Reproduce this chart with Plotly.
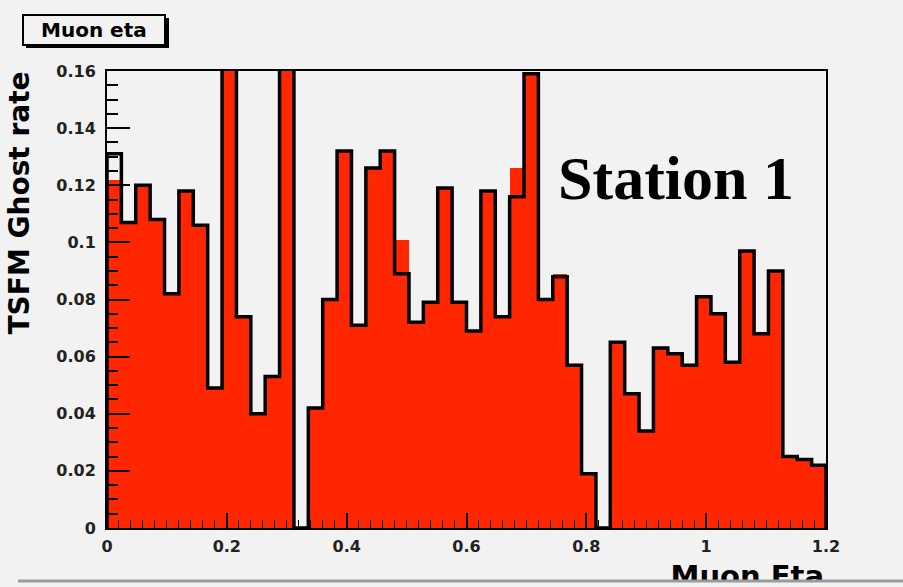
import plotly.graph_objects as go

# ---------------- data ----------------
eta_min, eta_max, n_bins = 0.0, 1.2, 50
# red filled histogram (per 0.024 bin in eta)
red_vals = [0.122, 0.107, 0.120, 0.108, 0.082, 0.118, 0.106, 0.049, 0.175, 0.074,
            0.040, 0.053, 0.175, 0.000, 0.042, 0.080, 0.132, 0.071, 0.126, 0.132,
            0.101, 0.072, 0.079, 0.119, 0.079, 0.069, 0.118, 0.074, 0.126, 0.159,
            0.080, 0.089, 0.057, 0.019, 0.000, 0.065, 0.047, 0.034, 0.063, 0.061,
            0.057, 0.081, 0.075, 0.058, 0.097, 0.068, 0.090, 0.025, 0.024, 0.022]
# black outline histogram
black_vals = [0.131, 0.107, 0.120, 0.108, 0.082, 0.118, 0.106, 0.049, 0.175, 0.074,
              0.040, 0.053, 0.175, 0.000, 0.042, 0.080, 0.132, 0.071, 0.126, 0.132,
              0.089, 0.072, 0.079, 0.119, 0.079, 0.069, 0.118, 0.074, 0.116, 0.159,
              0.080, 0.088, 0.057, 0.019, 0.000, 0.065, 0.047, 0.034, 0.063, 0.061,
              0.057, 0.081, 0.075, 0.058, 0.097, 0.068, 0.090, 0.025, 0.024, 0.022]
x_tick_vals = [0, 0.2, 0.4, 0.6, 0.8, 1.0, 1.2]
x_tick_text = ["0", "0.2", "0.4", "0.6", "0.8", "1", "1.2"]
y_tick_vals = [0, 0.02, 0.04, 0.06, 0.08, 0.10, 0.12, 0.14, 0.16]
y_tick_text = ["0", "0.02", "0.04", "0.06", "0.08", "0.1", "0.12", "0.14", "0.16"]

title_text = "Muon eta"
label_text = "Station 1"
x_title = "Muon Eta"
y_title = "TSFM Ghost rate"

# ---------------- geometry helpers ----------------
W, H = 903, 587
def PX(x):
    return x / W
def PY(y):
    return 1 - y / H

bin_w = (eta_max - eta_min) / n_bins
edges = [eta_min + i * bin_w for i in range(n_bins + 1)]
centers = [(edges[i] + edges[i + 1]) / 2 for i in range(n_bins)]

sx, sy = [edges[0]], [0.0]
for i, v in enumerate(black_vals):
    sx += [edges[i], edges[i + 1]]
    sy += [v, v]
sx.append(edges[-1]); sy.append(0.0)

BG = "#f2f2f2"
RED = "#ff2600"

X2_LO = 0.6  # domain start of the small title subplot
fig = go.Figure()
fig.add_trace(go.Bar(x=centers, y=red_vals, width=bin_w, marker=dict(color=RED, line=dict(width=0)),
                     showlegend=False, hoverinfo="skip"))
fig.add_trace(go.Scatter(x=sx, y=sy, mode="lines", line=dict(color="black", width=3.5),
                         showlegend=False, hoverinfo="skip"))
# x-axis title, clipped at the pad's lower edge like the reference
fig.add_trace(go.Scatter(x=[(PX(824) - X2_LO) / (1 - X2_LO)], y=[0.62], mode="text", text=[x_title],
                         textposition="bottom left", cliponaxis=True,
                         textfont=dict(family="DejaVu Sans", size=29, color="black", weight="bold"),
                         xaxis="x2", yaxis="y2", showlegend=False, hoverinfo="skip"))

tickfont = dict(family="DejaVu Sans", size=16, color="#222222", weight="bold")

fig.update_layout(
    width=W, height=H,
    margin=dict(l=0, r=0, t=0, b=0),
    paper_bgcolor=BG, plot_bgcolor=BG,
    bargap=0,
    xaxis=dict(domain=[PX(107), PX(826)], range=[eta_min, eta_max],
               tickvals=x_tick_vals, ticktext=x_tick_text, tickfont=tickfont,
               ticks="inside", ticklen=15, tickwidth=1.5, tickcolor="black",
               minor=dict(dtick=0.02, tick0=0, ticks="inside", ticklen=8, tickcolor="black", tickwidth=1),
               showline=True, linecolor="black", linewidth=2, mirror=True,
               showgrid=False, zeroline=False, automargin=False, ticklabelstandoff=3),
    yaxis=dict(domain=[PY(528), PY(71)], range=[0, 0.16],
               tickvals=y_tick_vals, ticktext=y_tick_text, tickfont=tickfont,
               ticks="inside", ticklen=23, tickwidth=2, tickcolor="black",
               minor=dict(dtick=0.005, tick0=0, ticks="inside", ticklen=11, tickcolor="black", tickwidth=1.5),
               showline=True, linecolor="black", linewidth=2, mirror=True,
               showgrid=False, zeroline=False, automargin=False, ticklabelstandoff=6),
    xaxis2=dict(domain=[X2_LO, 1.0], range=[0, 1], visible=False, anchor="y2"),
    yaxis2=dict(domain=[PY(580), PY(555)], range=[0, 1], visible=False, anchor="x2"),
    shapes=[
        dict(type="rect", xref="paper", yref="paper", x0=PX(26), x1=PX(169), y0=PY(18), y1=PY(48),
             fillcolor="black", line=dict(width=0), layer="above"),
        dict(type="rect", xref="paper", yref="paper", x0=PX(23), x1=PX(165), y0=PY(15), y1=PY(45),
             fillcolor=BG, line=dict(color="black", width=2), layer="above"),
        dict(type="line", xref="paper", yref="paper", x0=PX(18), x1=1.0, y0=PY(581), y1=PY(581),
             line=dict(color="#9a9a9a", width=3), layer="above"),
    ],
    annotations=[
        dict(text=title_text, xref="paper", yref="paper", x=PX(94), y=PY(30),
             showarrow=False, xanchor="center", yanchor="middle",
             font=dict(family="DejaVu Sans", size=20, color="black", weight="bold")),
        dict(text=label_text, xref="paper", yref="paper", x=PX(676), y=PY(178),
             showarrow=False, xanchor="center", yanchor="middle",
             font=dict(family="Liberation Serif", size=62, color="black", weight="bold")),
        dict(text=y_title, xref="paper", yref="paper", x=PX(38), y=PY(203),
             showarrow=False, xanchor="right", yanchor="middle", textangle=-90,
             font=dict(family="DejaVu Sans", size=28, color="black", weight="bold")),
    ],
)

fig.write_html("out.html")
